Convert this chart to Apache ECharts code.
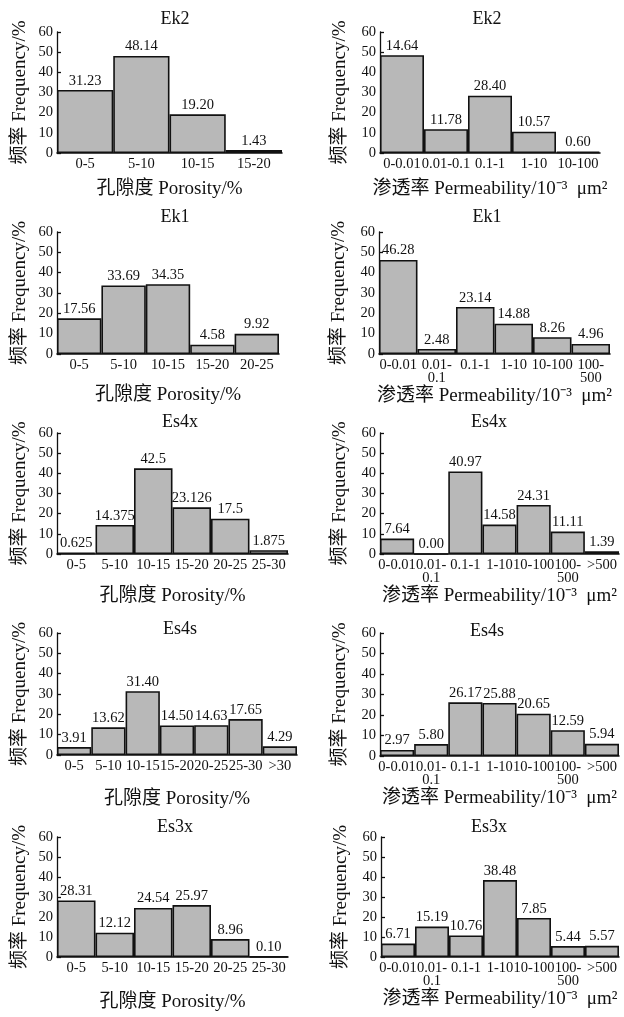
<!DOCTYPE html>
<html>
<head>
<meta charset="utf-8">
<script src="https://cdn.jsdelivr.net/npm/echarts@6/dist/echarts.min.js"></script>
<style>
html,body{margin:0;padding:0;background:#fff;}
#c{width:624px;height:1017px;}
</style>
</head>
<body>
<div id="c"></div>
<script>
// ---------- data ----------
var porCats4 = ['0-5', '5-10', '10-15', '15-20'];
var porCats5 = ['0-5', '5-10', '10-15', '15-20', '20-25'];
var porCats6 = ['0-5', '5-10', '10-15', '15-20', '20-25', '25-30'];
var porCats7 = ['0-5', '5-10', '10-15', '15-20', '20-25', '25-30', '>30'];
var permCats5 = ['0-0.01', '0.01-0.1', '0.1-1', '1-10', '10-100'];
var permCats6 = ['0-0.01', '0.01-\n0.1', '0.1-1', '1-10', '10-100', '100-\n500'];
var permCats7 = ['0-0.01', '0.01-\n0.1', '0.1-1', '1-10', '10-100', '100-\n500', '>500'];

var titles = ['Ek2', 'Ek2', 'Ek1', 'Ek1', 'Es4x', 'Es4x', 'Es4s', 'Es4s', 'Es3x', 'Es3x'];

// bar heights as drawn, and printed labels
var ek2PorVals = [31.23, 48.14, 19.20, 1.43];
var ek2PorLabels = ['31.23', '48.14', '19.20', '1.43'];
var ek2PermVals = [48.5, 11.78, 28.40, 10.57, 0.60];
var ek2PermLabels = ['14.64', '11.78', '28.40', '10.57', '0.60'];

var ek1PorVals = [17.56, 33.69, 34.35, 4.58, 9.92];
var ek1PorLabels = ['17.56', '33.69', '34.35', '4.58', '9.92'];
var ek1PermVals = [46.28, 2.48, 23.14, 14.88, 8.26, 4.96];
var ek1PermLabels = ['46.28', '2.48', '23.14', '14.88', '8.26', '4.96'];

var es4xPorVals = [0.625, 14.375, 42.5, 23.126, 17.5, 1.875];
var es4xPorLabels = ['0.625', '14.375', '42.5', '23.126', '17.5', '1.875'];
var es4xPermVals = [7.64, 0.00, 40.97, 14.58, 24.31, 11.11, 1.39];
var es4xPermLabels = ['7.64', '0.00', '40.97', '14.58', '24.31', '11.11', '1.39'];

var es4sPorVals = [3.91, 13.62, 31.40, 14.50, 14.63, 17.65, 4.29];
var es4sPorLabels = ['3.91', '13.62', '31.40', '14.50', '14.63', '17.65', '4.29'];
var es4sPermVals = [2.97, 5.80, 26.17, 25.88, 20.65, 12.59, 5.94];
var es4sPermLabels = ['2.97', '5.80', '26.17', '25.88', '20.65', '12.59', '5.94'];

var es3xPorVals = [28.31, 12.12, 24.54, 25.97, 8.96, 0.10];
var es3xPorLabels = ['28.31', '12.12', '24.54', '25.97', '8.96', '0.10'];
var es3xPermVals = [6.71, 15.19, 10.76, 38.48, 19.5, 5.44, 5.57];
var es3xPermLabels = ['6.71', '15.19', '10.76', '38.48', '7.85', '5.44', '5.57'];

var yTicks = [0, 10, 20, 30, 40, 50, 60];

var porName = '孔隙度 Porosity/%';
var permName = '渗透率 Permeability/10\u207B\u00B3  \u03BCm\u00B2';
var yName = '频率 Frequency/%';

// ---------- layout ----------
var panels = [
  {cats: porCats4, vals: ek2PorVals, labels: ek2PorLabels, name: porName, g: [57, 32, 225, 121], ng: 27, t: [170, 5], yg: 27},
  {cats: permCats5, vals: ek2PermVals, labels: ek2PermLabels, name: permName, g: [380, 32, 220, 121], ng: 27, t: [482, 5], yg: 30},
  {cats: porCats5, vals: ek1PorVals, labels: ek1PorLabels, name: porName, g: [57, 232, 222, 122], ng: 32, t: [170, 203], yg: 27},
  {cats: permCats6, vals: ek1PermVals, labels: ek1PermLabels, name: permName, g: [379, 232, 231, 122], ng: 29, t: [482, 203], yg: 30},
  {cats: porCats6, vals: es4xPorVals, labels: es4xPorLabels, name: porName, g: [57, 433, 231, 121], ng: 33, t: [175, 408], yg: 27},
  {cats: permCats7, vals: es4xPermVals, labels: es4xPermLabels, name: permName, g: [380, 433, 239, 121], ng: 29, t: [484, 408], yg: 30},
  {cats: porCats7, vals: es4sPorVals, labels: es4sPorLabels, name: porName, g: [57, 633, 240, 122], ng: 35, t: [175, 615], yg: 27},
  {cats: permCats7, vals: es4sPermVals, labels: es4sPermLabels, name: permName, g: [380, 633, 239, 123], ng: 29, t: [482, 617], yg: 30},
  {cats: porCats6, vals: es3xPorVals, labels: es3xPorLabels, name: porName, g: [57, 837, 231, 120], ng: 36, t: [170, 813], yg: 27},
  {cats: permCats7, vals: es3xPermVals, labels: es3xPermLabels, name: permName, g: [381, 837, 238, 120], ng: 28, t: [484, 813], yg: 30}
];

var FONT = "'Liberation Serif', 'Noto Sans CJK SC', serif";
var INK = '#111111';

var option = {
  animation: false,
  backgroundColor: '#ffffff',
  textStyle: {fontFamily: FONT, color: INK},
  title: [], grid: [], xAxis: [], yAxis: [], series: []
};

panels.forEach(function (p, i) {
  option.title.push({
    text: titles[i], left: p.t[0], top: p.t[1], textAlign: 'center',
    textStyle: {fontFamily: FONT, fontSize: 18, fontWeight: 'normal', color: INK}
  });
  option.grid.push({left: p.g[0], top: p.g[1], width: p.g[2], height: p.g[3], containLabel: false});
  option.xAxis.push({
    type: 'category', gridIndex: i, data: p.cats, boundaryGap: true,
    name: p.name, nameLocation: 'middle', nameGap: p.ng,
    nameTextStyle: {fontFamily: FONT, fontSize: 19, color: INK},
    axisLine: {show: true, lineStyle: {color: INK, width: 1.6}},
    axisTick: {show: false},
    axisLabel: {interval: 0, fontFamily: FONT, fontSize: 14.5, color: INK, margin: 5, lineHeight: 13},
    splitLine: {show: false}
  });
  option.yAxis.push({
    type: 'value', gridIndex: i, min: 0, max: 60, interval: 10,
    name: yName, nameLocation: 'middle', nameGap: p.yg,
    nameTextStyle: {fontFamily: FONT, fontSize: 19, color: INK},
    axisLine: {show: true, lineStyle: {color: INK, width: 1.3}},
    axisTick: {show: true, inside: true, length: 4, lineStyle: {color: INK, width: 1.3}},
    axisLabel: {fontFamily: FONT, fontSize: 14.5, color: INK, margin: 4,
      formatter: function (v) { return yTicks.indexOf(v) >= 0 ? String(v) : ''; }},
    splitLine: {show: false}
  });
  option.series.push({
    type: 'bar', xAxisIndex: i, yAxisIndex: i, data: p.vals,
    barCategoryGap: '0%',
    itemStyle: {color: '#b8b8b8', borderColor: INK, borderWidth: 1.6},
    label: {
      show: true, position: 'top', distance: 2,
      fontFamily: FONT, fontSize: 14.5, color: INK,
      formatter: (function (labs) { return function (d) { return labs[d.dataIndex]; }; })(p.labels)
    }
  });
});

var chart = echarts.init(document.getElementById('c'), null, {renderer: 'canvas'});
chart.setOption(option);
</script>
</body>
</html>
